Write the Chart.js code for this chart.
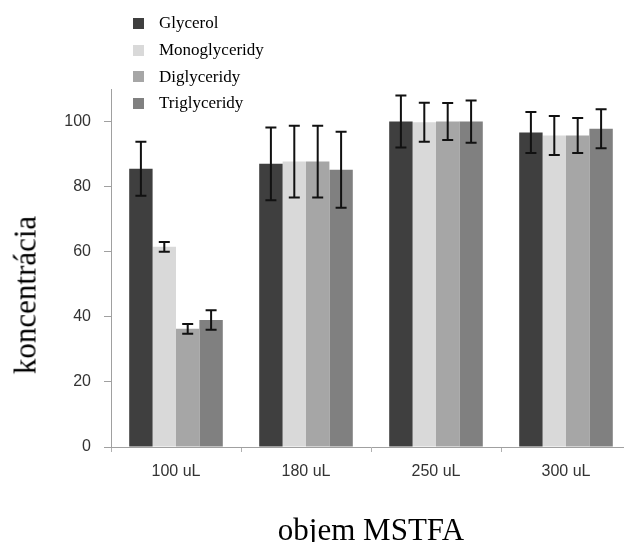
<!DOCTYPE html>
<html>
<head>
<meta charset="utf-8">
<script src="https://cdn.jsdelivr.net/npm/chart.js@4"></script>
<style>
  body { margin: 0; background: #fff; overflow: hidden; }
  #wrap { position: relative; width: 624px; height: 542px; overflow: hidden; }
  #chart { position: absolute; left: 0; top: 0; }
  #legend { position: absolute; left: 133px; top: 10px; font-family: "Liberation Serif", serif; font-size: 17px; color: #000; }
  .row { display: flex; align-items: center; height: 26.7px; }
  .box { width: 11px; height: 11px; margin-right: 15px; }
  #ytitle { position: absolute; left: 24.5px; top: 295px; transform: translate(-50%, -50%) rotate(-90deg);
    font-family: "Liberation Serif", serif; font-size: 31px; line-height: 1; white-space: nowrap; color: #000; }
</style>
</head>
<body>
<div id="wrap">
  <canvas id="chart" width="640" height="542"></canvas>
  <div id="legend"></div>
  <div id="ytitle">koncentrácia</div>
</div>
<script>
const categories = ['100 uL', '180 uL', '250 uL', '300 uL'];
const seriesNames = ['Glycerol', 'Monoglyceridy', 'Diglyceridy', 'Triglyceridy'];
const colors = ['#3f3f3f', '#d9d9d9', '#a6a6a6', '#808080'];

const glycerol = [85.5, 87, 100, 96.6];
const mono = [61.5, 87.7, 99.8, 95.7];
const di = [36.3, 87.7, 100, 95.7];
const tri = [39, 85.2, 100, 97.8];

const glycerolErr = [8.3, 11.2, 8, 6.3];
const monoErr = [1.5, 11, 6, 6];
const diErr = [1.5, 11, 5.7, 5.4];
const triErr = [3, 11.7, 6.5, 6];

const values = [glycerol, mono, di, tri];
const errors = [glycerolErr, monoErr, diErr, triErr];

// html legend
const legend = document.getElementById('legend');
seriesNames.forEach((name, i) => {
  const row = document.createElement('div');
  row.className = 'row';
  row.innerHTML = `<span class="box" style="background:${colors[i]}"></span><span>${name}</span>`;
  legend.appendChild(row);
});

const errorBars = {
  id: 'errorBars',
  afterDatasetsDraw(chart) {
    const ctx = chart.ctx;
    const y = chart.scales.y;
    ctx.save();
    ctx.strokeStyle = '#111';
    ctx.lineWidth = 2;
    chart.data.datasets.forEach((ds, i) => {
      chart.getDatasetMeta(i).data.forEach((bar, j) => {
        const v = ds.data[j], e = errors[i][j];
        const top = y.getPixelForValue(v + e), bot = y.getPixelForValue(v - e);
        ctx.beginPath();
        ctx.moveTo(bar.x, top); ctx.lineTo(bar.x, bot);
        ctx.moveTo(bar.x - 5.5, top); ctx.lineTo(bar.x + 5.5, top);
        ctx.moveTo(bar.x - 5.5, bot); ctx.lineTo(bar.x + 5.5, bot);
        ctx.stroke();
      });
    });
    ctx.restore();
  }
};

new Chart(document.getElementById('chart'), {
  type: 'bar',
  data: {
    labels: categories,
    datasets: values.map((d, i) => ({ label: seriesNames[i], data: d, backgroundColor: colors[i] }))
  },
  options: {
    responsive: false,
    animation: false,
    devicePixelRatio: 1,
    layout: { padding: { top: 89, right: 9, left: 0, bottom: 0 } },
    datasets: { bar: { categoryPercentage: 0.72, barPercentage: 1.0 } },
    plugins: { legend: { display: false }, tooltip: { enabled: false } },
    scales: {
      x: {
        afterFit: s => { s.height = 95; },
        grid: { offset: true, drawOnChartArea: false, tickLength: 5, color: '#b0b0b0' },
        border: { color: '#a0a0a0' },
        ticks: { color: '#333', padding: 10, font: { family: 'Liberation Sans', size: 16 } },
        title: { display: true, text: 'objem MSTFA', color: '#000',
          font: { family: 'Liberation Serif', size: 31, lineHeight: 1 }, padding: { top: 0, bottom: -5 } }
      },
      y: {
        min: 0, max: 110,
        afterFit: s => { s.width = 111; },
        grid: { drawOnChartArea: false, tickLength: 7, color: '#a0a0a0' },
        border: { color: '#a0a0a0' },
        ticks: { stepSize: 20, includeBounds: false, color: '#333', padding: 13, font: { family: 'Liberation Sans', size: 16 } }
      }
    }
  },
  plugins: [errorBars]
});
</script>
</body>
</html>
